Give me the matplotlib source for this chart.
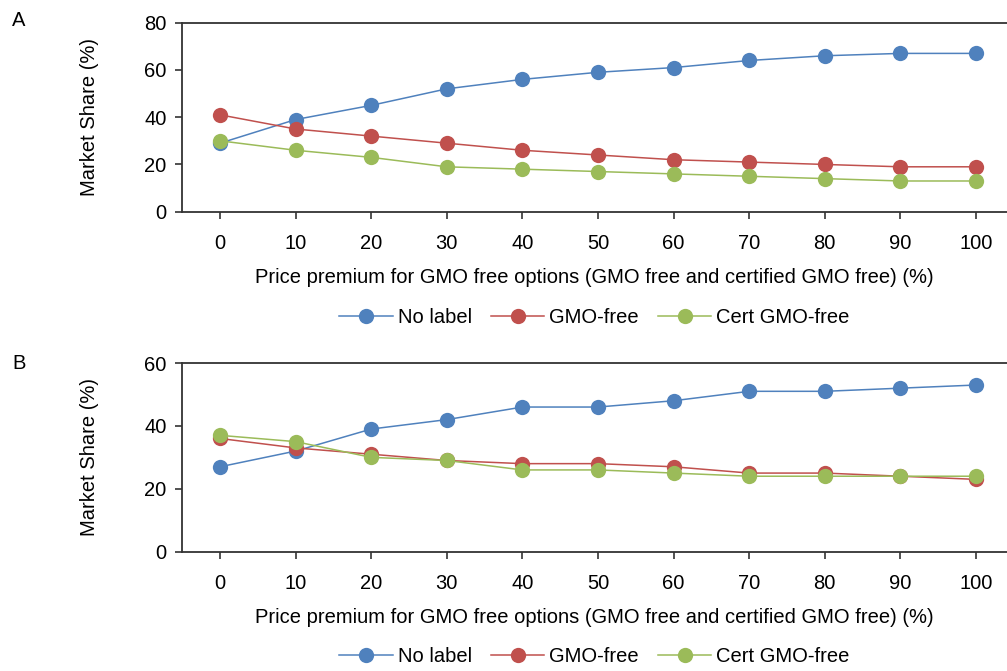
import matplotlib
matplotlib.use("Agg")
import matplotlib.pyplot as plt

plt.rcParams['font.family'] = ['Liberation Sans', 'DejaVu Sans']

premium = [0, 10, 20, 30, 40, 50, 60, 70, 80, 90, 100]

# panel A
a_no_label = [29, 39, 45, 52, 56, 59, 61, 64, 66, 67, 67]
a_gmo_free = [41, 35, 32, 29, 26, 24, 22, 21, 20, 19, 19]
a_cert_free = [30, 26, 23, 19, 18, 17, 16, 15, 14, 13, 13]

# panel B
b_no_label = [27, 32, 39, 42, 46, 46, 48, 51, 51, 52, 53]
b_gmo_free = [36, 33, 31, 29, 28, 28, 27, 25, 25, 24, 23]
b_cert_free = [37, 35, 30, 29, 26, 26, 25, 24, 24, 24, 24]

series_names = ["No label", "GMO-free", "Cert GMO-free"]
colors = ["#4F81BD", "#C0504D", "#9BBB59"]

xlabel = "Price premium for GMO free options (GMO free and certified GMO free) (%)"

fig = plt.figure(figsize=(10.07, 6.71), dpi=100)
ax_a = fig.add_axes([0.1807, 0.6845, 0.8193, 0.2817])
ax_b = fig.add_axes([0.1807, 0.1778, 0.8193, 0.2812])

panels = [
    (ax_a, [a_no_label, a_gmo_free, a_cert_free], 80, [0, 20, 40, 60, 80], "A", 20, -106 / 189),
    (ax_b, [b_no_label, b_gmo_free, b_cert_free], 60, [0, 20, 40, 60], "B", 363, -105 / 189),
]

fs = 14.5
for ax, data, ymax, yticks, letter, ly, leg_y in panels:
    for vals, name, c in zip(data, series_names, colors):
        ax.plot(premium, vals, color=c, lw=1.1, marker='o', ms=11,
                markeredgewidth=0, label=name)
    ax.set_xlim(-5.03, 104.1)
    ax.set_ylim(0, ymax)
    ax.set_xticks(premium)
    ax.set_yticks(yticks)
    ax.tick_params(axis='both', direction='out', length=5, width=1.2,
                   color='#333333', labelsize=fs, pad=6)
    ax.tick_params(axis='x', pad=11)
    for s in ['left', 'bottom', 'top']:
        ax.spines[s].set_linewidth(1.3)
        ax.spines[s].set_color('#333333')
    ax.spines['right'].set_visible(False)
    ax.set_xlabel(xlabel, fontsize=fs, labelpad=11)
    ax.set_ylabel("Market Share (%)", fontsize=fs)
    ax.yaxis.set_label_coords(-0.1, 0.5)
    fig.text(12 / 1007, 1 - ly / 671, letter, fontsize=fs, ha='left', va='center')
    ax.legend(loc='center', bbox_to_anchor=(0.5, leg_y), ncol=3,
              frameon=False, fontsize=fs, handlelength=2.65,
              columnspacing=0.95, handletextpad=0.25)

fig.savefig("out.png", dpi=100)
